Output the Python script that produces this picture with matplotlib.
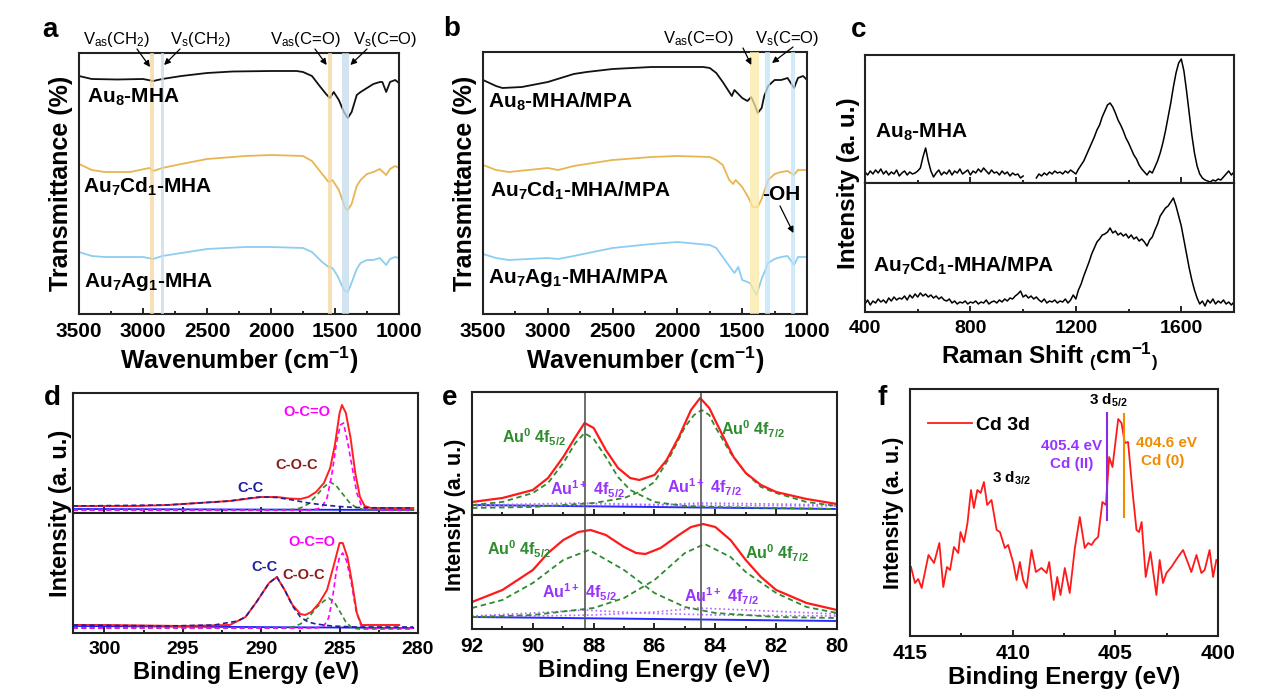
import numpy as np
import matplotlib
matplotlib.use("Agg")
import matplotlib.pyplot as plt
from matplotlib.ticker import MultipleLocator

plt.rcParams['font.family'] = 'Liberation Sans'
plt.rcParams['mathtext.fontset'] = 'custom'
plt.rcParams['mathtext.rm'] = 'Liberation Sans'
plt.rcParams['mathtext.bf'] = 'Liberation Sans:bold'
plt.rcParams['mathtext.default'] = 'regular'

# ---------------- data ----------------
# a: FTIR, MHA clusters
a_x_black = [3500, 3400, 3200, 3000, 2920, 2850, 2700, 2500, 2300, 2000, 1800, 1750, 1680, 1620, 1570, 1540,
             1510, 1470, 1430, 1400, 1370, 1330, 1300, 1250, 1200, 1150, 1130, 1100, 1070, 1030, 1000]
a_y_black = [238, 235, 234.5, 235, 233, 235, 238, 241, 242.5, 243, 243, 242, 238, 228, 220, 216,
             222, 214, 202, 196, 202, 219, 222, 226, 230, 232, 232, 222, 232, 234, 231]
a_x_cd = [3500, 3400, 3300, 3100, 2950, 2920, 2850, 2700, 2500, 2200, 2000, 1750, 1680, 1600, 1550, 1520,
          1470, 1420, 1400, 1370, 1330, 1300, 1250, 1200, 1150, 1100, 1070, 1030, 1000]
a_y_cd = [150, 144, 142, 142, 146, 143, 146, 150, 155, 158, 159, 158, 153, 140, 132, 134,
          124, 106, 104, 110, 128, 134, 140, 142, 145, 139, 145, 148, 146]
a_x_ag = [3500, 3400, 3300, 3000, 2920, 2850, 2700, 2500, 2200, 2000, 1750, 1680, 1600, 1550, 1520,
          1480, 1430, 1400, 1380, 1330, 1300, 1250, 1200, 1150, 1100, 1070, 1030, 1000]
a_y_ag = [62, 58, 57, 57, 55, 58, 61, 65, 67, 67, 66, 62, 52, 47, 46,
          38, 24, 22, 28, 45, 51, 54, 54, 56, 49, 55, 57, 56]
a_names = ['Au$_8$-MHA', 'Au$_7$Cd$_1$-MHA', 'Au$_7$Ag$_1$-MHA']
a_bands = [(2945, 2914, '#f5d69c'), (2862, 2836, '#c4dcec'), (1557, 1526, '#f5d69c'), (1443, 1391, '#c4dcec')]

# b: FTIR, MHA/MPA clusters
b_x_black = [3500, 3400, 3350, 3200, 3000, 2800, 2700, 2500, 2200, 1800, 1750, 1700, 1650, 1610, 1580, 1560,
             1530, 1500, 1460, 1430, 1400, 1380, 1350, 1330, 1300, 1250, 1200, 1150, 1100, 1070, 1030, 1000]
b_y_black = [234, 228, 226, 227, 232, 240, 242, 245, 247, 247, 246, 241, 232, 224, 218, 224,
             220, 216, 213, 217, 208, 201, 206, 218, 228, 234, 234, 236, 226, 236, 238, 234]
b_x_cd = [3500, 3400, 3300, 3000, 2920, 2800, 2500, 2200, 2000, 1750, 1700, 1650, 1600, 1570, 1550, 1500,
          1450, 1420, 1380, 1350, 1300, 1250, 1200, 1150, 1100, 1070, 1000]
b_y_cd = [149, 144, 142, 146, 144, 148, 154, 157, 158, 157, 154, 149, 134, 130, 134, 127,
          116, 107, 107, 115, 134, 140, 142, 143, 139, 144, 144]
b_x_ag = [3500, 3400, 3300, 3000, 2920, 2800, 2500, 2200, 2000, 1750, 1700, 1650, 1600, 1560, 1530, 1500,
          1440, 1390, 1350, 1300, 1250, 1200, 1150, 1100, 1070, 1000]
b_y_ag = [60, 56, 54, 56, 55, 58, 66, 70, 72, 69, 66, 57, 48, 41, 47, 34,
          31, 19, 35, 51, 55, 57, 58, 49, 57, 57]
b_names = ['Au$_8$-MHA/MPA', 'Au$_7$Cd$_1$-MHA/MPA', 'Au$_7$Ag$_1$-MHA/MPA']
b_bands = [(1437, 1373, '#fbeaa4'), (1321, 1288, '#bfe3f7'), (1123, 1089, '#bfe3f7')]

# c: Raman
c_x_top = [400, 410, 420, 430, 440, 450, 460, 470, 480, 490, 500, 510, 520, 530, 540, 550, 560, 570, 580, 590,
           600, 610, 620, 630, 640, 650, 660, 670, 680, 690, 700, 710, 720, 730, 740, 750, 760, 770, 780, 790,
           800, 810, 820, 830, 840, 850, 860, 870, 880, 890, 900, 910, 920, 930, 940, 950, 960, 970, 980, 990,
           1000, 1025, 1050, 1060, 1070, 1080, 1090, 1100, 1110, 1120, 1130, 1140, 1150, 1160, 1170, 1180,
           1190, 1200, 1210, 1220, 1230, 1240, 1250, 1260, 1270, 1280, 1290, 1300, 1310, 1320, 1330, 1340,
           1350, 1360, 1370, 1380, 1390, 1400, 1410, 1420, 1430, 1440, 1450, 1460, 1470, 1480, 1490, 1500,
           1510, 1520, 1530, 1540, 1550, 1560, 1570, 1580, 1590, 1600, 1610, 1620, 1630, 1640, 1650, 1660,
           1670, 1680, 1690, 1700, 1710, 1720, 1730, 1740, 1750, 1760, 1770, 1780, 1790, 1800]
c_y_top = [11, 8, 12, 9, 13, 10, 14, 9, 12, 8, 11, 9, 13, 7, 10, 12, 8, 11, 9, 10,
           12, 15, 26, 35, 22, 12, 6, 10, 13, 8, 11, 9, 13, 8, 12, 10, 14, 9, 11, 13,
           8, 12, 10, 14, 11, 15, 12, 9, 13, 10, 11, 8, 12, 9, 11, 7, 10, 8, 9, 5,
           7, np.nan, 5, 9, 7, 10, 8, 11, 9, 12, 10, 11, 9, 12, 10, 13,
           11, 9, 14, 18, 22, 28, 34, 40, 46, 53, 58, 66, 72, 78, 80, 76,
           70, 63, 58, 52, 45, 40, 34, 28, 24, 18, 14, 11, 8, 12, 10, 16,
           22, 30, 40, 52, 66, 80, 96, 110, 120, 124, 112, 92, 70, 48, 30, 17,
           9, 5, 3, 2, 1, 3, 2, 4, 3, 6, 9, 12, 8, 11]
c_x_bot = list(range(400, 1810, 10))
c_y_bot = [8, 12, 7, 11, 9, 13, 10, 12, 9, 14, 11, 15, 12, 14, 13, 16, 12, 17, 14, 18,
           15, 19, 16, 18, 15, 17, 14, 16, 13, 15, 12, 11, 13, 9, 11, 8, 10, 9, 11, 8,
           10, 9, 11, 8, 10, 9, 12, 8, 10, 11, 9, 12, 10, 13, 11, 14, 13, 16, 18, 21,
           15, 17, 14, 16, 13, 15, 12, 10, 13, 9, 11, 10, 12, 9, 11, 10, 13, 9, 12, 17,
           13, 22, 28, 36, 43, 50, 58, 64, 70, 73, 77, 78, 80, 84, 79, 81, 77, 79, 76, 78,
           74, 77, 73, 75, 71, 73, 70, 66, 72, 75, 82, 88, 96, 100, 104, 106, 110, 114, 106, 96,
           86, 72, 58, 44, 32, 22, 14, 8, 11, 6, 12, 9, 13, 8, 11, 9, 12, 8, 10, 7, 10]
c_names = ['Au$_8$-MHA', 'Au$_7$Cd$_1$-MHA/MPA']

# d: C 1s XPS (top / bottom)
d_top_x_red = [302, 300, 298, 296, 294, 292, 291, 290, 289, 288.2, 287.5, 287, 286.5, 286, 285.6, 285.3, 285.0,
               284.85, 284.6, 284.3, 284, 283.7, 283.4, 283, 282, 280.3]
d_top_y_red = [7, 7, 7, 8, 10, 12, 14, 16, 16, 14.5, 14, 16, 21, 30, 45, 68, 100,
               108, 100, 75, 40, 16, 7, 5, 5, 5]
d_top_x_cc = [302, 296, 294, 292, 290.5, 289.8, 289, 288, 287, 286, 285, 284, 282, 280.3]
d_top_y_cc = [7, 8, 10, 12, 15.5, 16, 15.5, 13, 10, 8, 6.5, 5.5, 5, 5]
d_top_x_coc = [302, 290, 288, 287.5, 287, 286.5, 286, 285.6, 285.2, 284.8, 284.4, 284, 283.5, 282, 280.3]
d_top_y_coc = [3, 3, 3.5, 5, 9, 17, 26, 31, 27, 19, 11, 6, 3.5, 3, 3]
d_top_x_oco = [302, 287, 286.4, 286.1, 285.8, 285.5, 285.2, 284.95, 284.75, 284.5, 284.2, 283.9, 283.6,
               283.3, 282, 280.3]
d_top_y_oco = [3, 3, 4, 7, 15, 38, 70, 88, 90, 72, 46, 20, 7, 4, 3, 3]
d_top_bg = [4, 3]
d_bot_x_red = [302, 300, 295, 292, 291, 290.3, 289.5, 289.0, 288.5, 288, 287.5, 287.2, 286.8, 286.3, 285.8,
               285.4, 285.0, 284.8, 284.5, 284.2, 283.9, 283.6, 283, 281.2]
d_bot_y_red = [8, 8, 7, 8, 16, 31, 50, 56, 43, 28, 19, 18, 21, 30, 43,
               66, 90, 90, 76, 50, 20, 8, 8, 8]
d_bot_x_cc = [302, 296, 293, 291.5, 291, 290.3, 289.5, 289, 288.5, 288, 287.5, 287, 286.5, 285.5, 284, 282,
              280.3]
d_bot_y_cc = [8, 7, 8, 12, 16, 31, 50, 56, 43, 27, 16, 11, 9, 7, 6, 6, 6]
d_bot_x_coc = [302, 288.5, 288, 287.5, 287, 286.5, 286, 285.7, 285.3, 285.0, 284.6, 284.2, 283.8, 280.3]
d_bot_y_coc = [5, 5, 6, 9, 15, 25, 32, 35, 30, 22, 11, 5, 4, 4]
d_bot_x_oco = [302, 286.5, 286.0, 285.7, 285.45, 285.2, 285, 284.8, 284.55, 284.25, 283.95, 283.65, 283.3,
               280.3]
d_bot_y_oco = [5, 5, 7, 15, 35, 63, 76, 80, 72, 50, 22, 8, 5, 5]
d_bot_bg = [7, 5]

# e: Au 4f XPS (top / bottom)
e_top_x_red = [92, 91, 90, 89.5, 89, 88.6, 88.3, 88, 87.6, 87.2, 86.8, 86.5, 86.0, 85.6, 85.2, 84.8, 84.5,
               84.2, 83.8, 83.4, 83, 82.5, 82, 81, 80]
e_top_y_red = [13, 17, 25, 37, 58, 78, 92, 87, 65, 47, 37, 35, 40, 55, 78, 105, 117,
               107, 82, 58, 42, 30, 23, 16, 11]
e_top_x_g1 = [92, 91, 90, 89.5, 89, 88.6, 88.3, 88.0, 87.6, 87.2, 86.8, 86, 85, 84, 82, 80]
e_top_y_g1 = [10, 13, 22, 32, 52, 72, 82, 76, 58, 38, 25, 13, 9, 8, 7, 6]
e_top_x_g2 = [92, 90, 88, 87, 86.5, 86, 85.5, 85, 84.7, 84.45, 84.2, 84, 83.5, 83, 82.5, 82, 81, 80]
e_top_y_g2 = [7, 8, 12, 17, 23, 33, 58, 88, 100, 105, 100, 88, 62, 42, 28, 22, 13, 9]
e_top_x_p1 = [92, 90, 88.5, 87, 85, 80]
e_top_y_p1 = [10, 11, 12, 11, 10, 9]
e_top_x_p2 = [92, 86, 84.5, 82, 80]
e_top_y_p2 = [9, 10, 12, 11, 10]
e_top_bg = [10, 6]
e_bot_x_red = [92, 91, 90, 89.5, 89, 88.5, 88.1, 87.6, 87.0, 86.6, 86.3, 85.8, 85.2, 84.8, 84.4, 84.0, 83.5,
               83, 82.5, 82, 81, 80]
e_bot_y_red = [27, 39, 59, 76, 89, 97, 99, 94, 82, 76, 75, 81, 94, 102, 105, 102, 89,
               69, 52, 39, 26, 19]
e_bot_x_g1 = [92, 91, 90, 89, 88.15, 87, 86, 85, 84, 82, 80]
e_bot_y_g1 = [21, 29, 46, 69, 79, 59, 36, 22, 16, 12, 11]
e_bot_x_g2 = [92, 90, 88, 87, 86, 85, 84.35, 83.5, 83, 82, 81, 80]
e_bot_y_g2 = [12, 14, 21, 31, 49, 76, 85, 72, 57, 36, 22, 16]
e_bot_x_p1 = [92, 90, 88.3, 86.5, 84, 80]
e_bot_y_p1 = [13, 16, 19, 16, 14, 13]
e_bot_x_p2 = [92, 88, 86, 84.6, 83, 80]
e_bot_y_p2 = [12, 14, 17, 21, 19, 15]
e_bot_bg = [12, 8]
e_lines = [88.28, 84.48]

# f: Cd 3d XPS
f_x = [414.95, 414.76, 414.6, 414.43, 414.1, 413.83, 413.57, 413.38, 413.2, 413.05, 412.86, 412.65, 412.54,
       412.37, 412.2, 412.03, 411.89, 411.72, 411.56, 411.4, 411.24, 411.03, 410.78, 410.62, 410.38, 410.22,
       409.97, 409.81, 409.65, 409.49, 409.32, 409.08, 408.87, 408.6, 408.35, 408.22, 408.0, 407.83, 407.67,
       407.46, 407.22, 406.97, 406.73, 406.49, 406.32, 406.16, 406.0, 405.84, 405.63, 405.46, 405.3, 405.14,
       404.86, 404.7, 404.54, 404.38, 404.17, 403.97, 403.84, 403.72, 403.52, 403.29, 403.0, 402.84, 402.68,
       402.51, 402.27, 401.95, 401.7, 401.46, 401.3, 401.05, 400.81, 400.65, 400.41, 400.24, 400.08]
f_y = [69, 53, 57, 48, 81, 73, 93, 49, 69, 66, 89, 83, 104,
       94, 113, 146, 128, 146, 143, 154, 131, 136, 106, 104, 88, 91,
       73, 56, 74, 56, 48, 86, 64, 68, 63, 74, 36, 59, 41,
       68, 43, 88, 119, 88, 93, 91, 96, 99, 134, 131, 179, 169,
       217, 213, 193, 194, 146, 106, 104, 114, 59, 84, 41, 76, 53,
       63, 69, 79, 86, 73, 64, 81, 63, 66, 86, 59, 76]
f_cd2 = 405.4
f_cd0 = 404.6

# ---------------- figure ----------------
W, H = 1269, 700
fig = plt.figure(figsize=(W / 100, H / 100), dpi=100)


def box(l, t, r, b):
    return fig.add_axes([l / W, 1 - b / H, (r - l) / W, (b - t) / H])


def fp(x, y):
    return (x / W, 1 - y / H)


def style(ax, xlim, major, minor, ylim, labels=True, size=15):
    ax.set_xlim(*xlim)
    ax.set_ylim(*ylim)
    ax.xaxis.set_major_locator(MultipleLocator(major))
    ax.xaxis.set_minor_locator(MultipleLocator(minor))
    ax.set_yticks([])
    ax.tick_params(axis='x', which='both', direction='in', width=1.2)
    ax.tick_params(axis='x', which='major', length=4, labelsize=size, pad=6)
    ax.tick_params(axis='x', which='minor', length=2.5)
    for t in ax.get_xticklabels():
        t.set_fontweight('bold')
    if not labels:
        ax.tick_params(axis='x', labelbottom=False)
    for s in ax.spines.values():
        s.set_linewidth(1.5)
        s.set_color('#222222')


def label_text(x, y, s, size=15, color='black', ha='left', weight='bold'):
    fig.text(*fp(x, y), s, fontsize=size, color=color, ha=ha, va='baseline', fontweight=weight)


def arrow(ax, head, tail):
    ax.annotate('', xy=head, xycoords='data', xytext=fp(*tail), textcoords='figure fraction',
                arrowprops=dict(arrowstyle='-|>', color='black', lw=0.9, mutation_scale=9,
                                shrinkA=0, shrinkB=0))


ir_colors = ['#111111', '#e8b553', '#8dcdf2']

# ---- a ----
ax = box(79, 53, 399, 314)
ax.plot(a_x_black, a_y_black, color=ir_colors[0], lw=1.3)
ax.plot(a_x_cd, a_y_cd, color=ir_colors[1], lw=1.3)
ax.plot(a_x_ag, a_y_ag, color=ir_colors[2], lw=1.3)
for lo, hi, c in a_bands:
    ax.axvspan(lo, hi, color=c, alpha=0.75, lw=0, zorder=3)
style(ax, (3500, 1000), 500, 250, (0, 261))
ax.set_xlabel('Wavenumber (cm$^{-1}$)', fontsize=18, fontweight='bold', labelpad=2)
ax.set_ylabel('Transmittance (%)', fontsize=18, fontweight='bold', labelpad=4)
for (x, y), s in zip([(87, 103), (83, 193), (84, 287)], a_names):
    label_text(x, y, s)
label_text(83, 44, 'V$_{as}$(CH$_2$)', size=12, weight='normal')
label_text(170, 44, 'V$_s$(CH$_2$)', size=12, weight='normal')
label_text(270, 44, 'V$_{as}$(C=O)', size=12, weight='normal')
label_text(353, 44, 'V$_s$(C=O)', size=12, weight='normal')
arrow(ax, (2945, 247), (137, 49))
arrow(ax, (2835, 249), (180, 49))
arrow(ax, (1565, 249), (315, 49))
arrow(ax, (1380, 249), (367, 49))
fig.text(*fp(50, 30), 'a', fontsize=20, fontweight='bold', ha='center', va='center')

# ---- b ----
ax = box(483, 52, 807, 314)
ax.plot(b_x_black, b_y_black, color=ir_colors[0], lw=1.3)
ax.plot(b_x_cd, b_y_cd, color=ir_colors[1], lw=1.3)
ax.plot(b_x_ag, b_y_ag, color=ir_colors[2], lw=1.3)
for lo, hi, c in b_bands:
    ax.axvspan(lo, hi, color=c, alpha=0.75, lw=0, zorder=3)
style(ax, (3500, 1000), 500, 250, (0, 262))
ax.set_xlabel('Wavenumber (cm$^{-1}$)', fontsize=18, fontweight='bold', labelpad=2)
ax.set_ylabel('Transmittance (%)', fontsize=18, fontweight='bold', labelpad=4)
for (x, y), s in zip([(488, 108), (490, 197), (488, 283)], b_names):
    label_text(x, y, s)
label_text(762, 200, '-OH', size=15)
label_text(663, 43, 'V$_{as}$(C=O)', size=12, weight='normal')
label_text(755, 43, 'V$_s$(C=O)', size=12, weight='normal')
arrow(ax, (1430, 249), (743, 48))
arrow(ax, (1270, 251), (793, 47))
arrow(ax, (1105, 81), (780, 206))
fig.text(*fp(452, 29), 'b', fontsize=20, fontweight='bold', ha='center', va='center')

# ---- c ----
axt = box(865, 55, 1234, 183)
axb = box(865, 183, 1234, 312)
axt.plot(c_x_top, c_y_top, color='black', lw=1.1)
axb.plot(c_x_bot, c_y_bot, color='black', lw=1.1)
style(axt, (400, 1800), 400, 200, (0, 128), labels=False, size=14)
style(axb, (400, 1800), 400, 200, (0, 129), size=14)
axb.set_xlabel('Raman Shift $_($cm$^{-1}$$_)$', fontsize=17.5, fontweight='bold', labelpad=2)
fig.text(*fp(849, 183), 'Intensity (a. u.)', fontsize=17.5, fontweight='bold', rotation=90,
         ha='center', va='center')
label_text(875, 138, c_names[0])
label_text(873, 272, c_names[1])
fig.text(*fp(859, 30), 'c', fontsize=20, fontweight='bold', ha='center', va='center')

# ---- d ----
dash = (0, (3, 2))
comp = dict(lw=1.2)
for (t, b), ys in [((393, 513), 'top'), ((513, 633), 'bot')]:
    ax = box(73, t, 418, b)
    g = globals()
    bg = g['d_%s_bg' % ys]
    ax.plot([302, 280.3], bg, color='#1a1aff', lw=1.3)
    ax.plot(g['d_%s_x_coc' % ys], g['d_%s_y_coc' % ys], color='#2e8b2e', ls=dash, **comp)
    ax.plot(g['d_%s_x_oco' % ys], g['d_%s_y_oco' % ys], color='#ff00ff', ls=dash, **comp)
    ax.plot(g['d_%s_x_red' % ys], g['d_%s_y_red' % ys], color='#ff2020', lw=1.4)
    ax.plot(g['d_%s_x_cc' % ys], g['d_%s_y_cc' % ys], color='#1f1f9f', ls=dash, **comp)
    style(ax, (302, 280), 5, 2.5, (0, 120), labels=(ys == 'bot'), size=14)
    if ys == 'bot':
        ax.set_xlabel('Binding Energy (eV)', fontsize=17, fontweight='bold', labelpad=2)
fig.text(*fp(60, 513), 'Intensity (a. u.)', fontsize=17, fontweight='bold', rotation=90,
         ha='center', va='center')
for (x, y), s, c in [((307, 412), 'O-C=O', '#ff00ff'), ((297, 465), 'C-O-C', '#8b1a1a'),
                     ((251, 488), 'C-C', '#1f1f9f'), ((312, 542), 'O-C=O', '#ff00ff'),
                     ((264, 567), 'C-C', '#1f1f9f'), ((304, 575), 'C-O-C', '#8b1a1a')]:
    fig.text(*fp(x, y), s, fontsize=10.5, fontweight='bold', color=c, ha='center', va='center')
fig.text(*fp(52, 398), 'd', fontsize=20, fontweight='bold', ha='center', va='center')

# ---- e ----
for (t, b), ys, ylim in [((392, 515), 'top', 123), ((515, 629), 'bot', 114)]:
    ax = box(472, t, 837, b)
    g = globals()
    ax.plot([92, 80], g['e_%s_bg' % ys], color='#2b2bff', lw=1.4)
    ax.plot(g['e_%s_x_p1' % ys], g['e_%s_y_p1' % ys], color='#b266ff', ls=':', lw=1.2)
    ax.plot(g['e_%s_x_p2' % ys], g['e_%s_y_p2' % ys], color='#b266ff', ls=':', lw=1.2)
    ax.plot(g['e_%s_x_g1' % ys], g['e_%s_y_g1' % ys], color='#2e8b2e', ls=dash, lw=1.3)
    ax.plot(g['e_%s_x_g2' % ys], g['e_%s_y_g2' % ys], color='#2e8b2e', ls=dash, lw=1.3)
    ax.plot(g['e_%s_x_red' % ys], g['e_%s_y_red' % ys], color='#ff1a1a', lw=1.6)
    for xl in e_lines:
        ax.axvline(xl, color='#555555', lw=1.2)
    style(ax, (92, 80), 2, 1, (0, ylim), labels=(ys == 'bot'), size=15)
    if ys == 'bot':
        ax.set_xlabel('Binding Energy (eV)', fontsize=17.5, fontweight='bold', labelpad=2)
fig.text(*fp(455, 515), 'Intensity (a. u.)', fontsize=15.5, fontweight='bold', rotation=90,
         ha='center', va='center')
green, purple = '#2e8b2e', '#9933ff'
for (x, y), s, c in [((502, 443), 'Au$^0$ 4f$_{5/2}$', green), ((721, 435), 'Au$^0$ 4f$_{7/2}$', green),
                     ((550, 495), 'Au$^{1+}$ 4f$_{5/2}$', purple), ((667, 493), 'Au$^{1+}$ 4f$_{7/2}$', purple),
                     ((487, 555), 'Au$^0$ 4f$_{5/2}$', green), ((745, 559), 'Au$^0$ 4f$_{7/2}$', green),
                     ((542, 598), 'Au$^{1+}$ 4f$_{5/2}$', purple), ((684, 602), 'Au$^{1+}$ 4f$_{7/2}$', purple)]:
    label_text(x, y, s, size=11.5, color=c)
fig.text(*fp(450, 398), 'e', fontsize=20, fontweight='bold', ha='center', va='center')

# ---- f ----
ax = box(910, 389, 1218, 636)
ax.plot(f_x, f_y, color='#ff1a1a', lw=1.3, label='Cd 3d')
ax.plot([f_cd2, f_cd2], [116, 223], color='#8a2be2', lw=1.5)
ax.plot([f_cd0, f_cd0], [119, 222], color='#f08c00', lw=1.5)
style(ax, (415, 400), 5, 2.5, (0, 247), size=15)
ax.set_xlabel('Binding Energy (eV)', fontsize=17.5, fontweight='bold', labelpad=2)
ax.set_ylabel('Intensity (a. u.)', fontsize=15.5, fontweight='bold', labelpad=4)
leg = ax.legend(loc='upper left', bbox_to_anchor=(0.0, 0.96), frameon=False,
                prop={'size': 14, 'weight': 'bold'}, handlelength=2.3, handletextpad=0.2)
label_text(1089, 405, '3 d$_{5/2}$', size=11, weight='bold')
label_text(992, 483, '3 d$_{3/2}$', size=11, weight='bold')
label_text(1072, 450, '405.4 eV', size=11, color='#9933ff', ha='center')
label_text(1072, 468, 'Cd (II)', size=11, color='#9933ff', ha='center')
label_text(1166, 447, '404.6 eV', size=11, color='#f08c00', ha='center')
label_text(1163, 465, 'Cd (0)', size=11, color='#f08c00', ha='center')
fig.text(*fp(882, 398), 'f', fontsize=20, fontweight='bold', ha='center', va='center')

fig.savefig('out.png', dpi=100)
